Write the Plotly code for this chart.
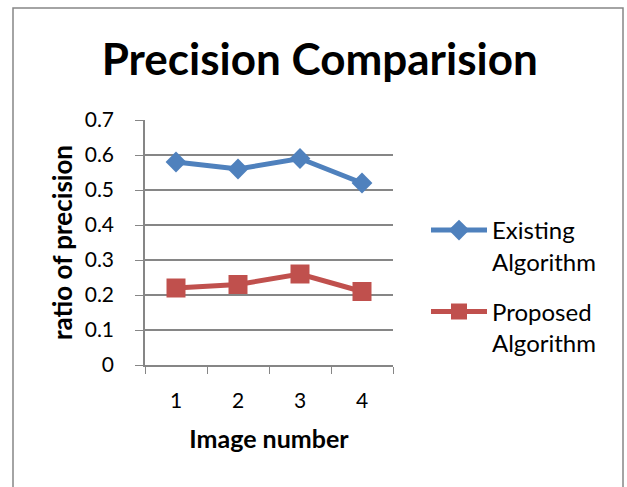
import plotly.graph_objects as go

categories = ["1", "2", "3", "4"]
existing = [0.58, 0.56, 0.59, 0.52]
proposed = [0.22, 0.23, 0.26, 0.21]
y_ticks = [0, 0.1, 0.2, 0.3, 0.4, 0.5, 0.6, 0.7]
y_tick_labels = ["0", "0.1", "0.2", "0.3", "0.4", "0.5", "0.6", "0.7"]

FONT = "Lato"
W, H = 627, 487
L, R, T, B = 145, 393, 120, 365

fig = go.Figure()
fig.add_trace(go.Scatter(
    x=categories, y=existing, mode="lines+markers",
    name="Existing<br>Algorithm", legendgroup="a",
    line=dict(color="#4F81BD", width=5),
    marker=dict(symbol="diamond", size=16, color="#4F81BD"),
))
fig.add_trace(go.Scatter(
    x=categories, y=proposed, mode="lines+markers",
    name="Proposed<br>Algorithm", legendgroup="b",
    line=dict(color="#C0504D", width=5),
    marker=dict(symbol="square", size=19, color="#C0504D"),
))

def px_x(p):
    return (p - L) / (R - L)

def px_y(p):
    return (B - p) / (B - T)

fig.update_layout(
    width=W, height=H,
    margin=dict(l=L, r=W - R, t=T, b=H - B, pad=0),
    paper_bgcolor="white", plot_bgcolor="white",
    font=dict(family=FONT, size=20, color="black"),
    title=dict(text="<b>Precision Comparision</b>", x=0.51, xanchor="center",
               y=1 - 60 / H, yanchor="middle", font=dict(size=44, family=FONT)),
    showlegend=True,
    legend=dict(x=px_x(426), y=px_y(208), xanchor="left", yanchor="top",
                font=dict(size=24, family=FONT), itemwidth=56, valign="top",
                tracegroupgap=16, bgcolor="rgba(0,0,0,0)"),
    xaxis=dict(
        type="category", range=[-0.5, 3.5], showgrid=False,
        showline=True, linecolor="#868686", linewidth=1.5,
        ticks="outside", ticklen=7, tickcolor="#868686", tickson="boundaries",
        ticklabelstandoff=16,
        title=dict(text="<b>Image number</b>", font=dict(size=25), standoff=20),
        tickfont=dict(size=21),
    ),
    yaxis=dict(
        range=[0, 0.7], tickvals=y_ticks, ticktext=y_tick_labels,
        showgrid=True, gridcolor="#868686", gridwidth=1.5,
        showline=True, linecolor="#868686", linewidth=1.5,
        ticks="outside", ticklen=8, tickcolor="#868686",
        ticklabelstandoff=17,
        zeroline=False,
        title=dict(text="<b>ratio of precision</b>", font=dict(size=26), standoff=5),
        tickfont=dict(size=21),
    ),
    shapes=[dict(type="rect", xref="paper", yref="paper",
                 x0=px_x(13), x1=px_x(623), y0=px_y(500), y1=px_y(8),
                 line=dict(color="#868686", width=1.5), fillcolor="rgba(0,0,0,0)",
                 layer="below")],
)

fig.write_html("out.html", config={"displayModeBar": False},
               post_script="document.body.style.margin='0';")
